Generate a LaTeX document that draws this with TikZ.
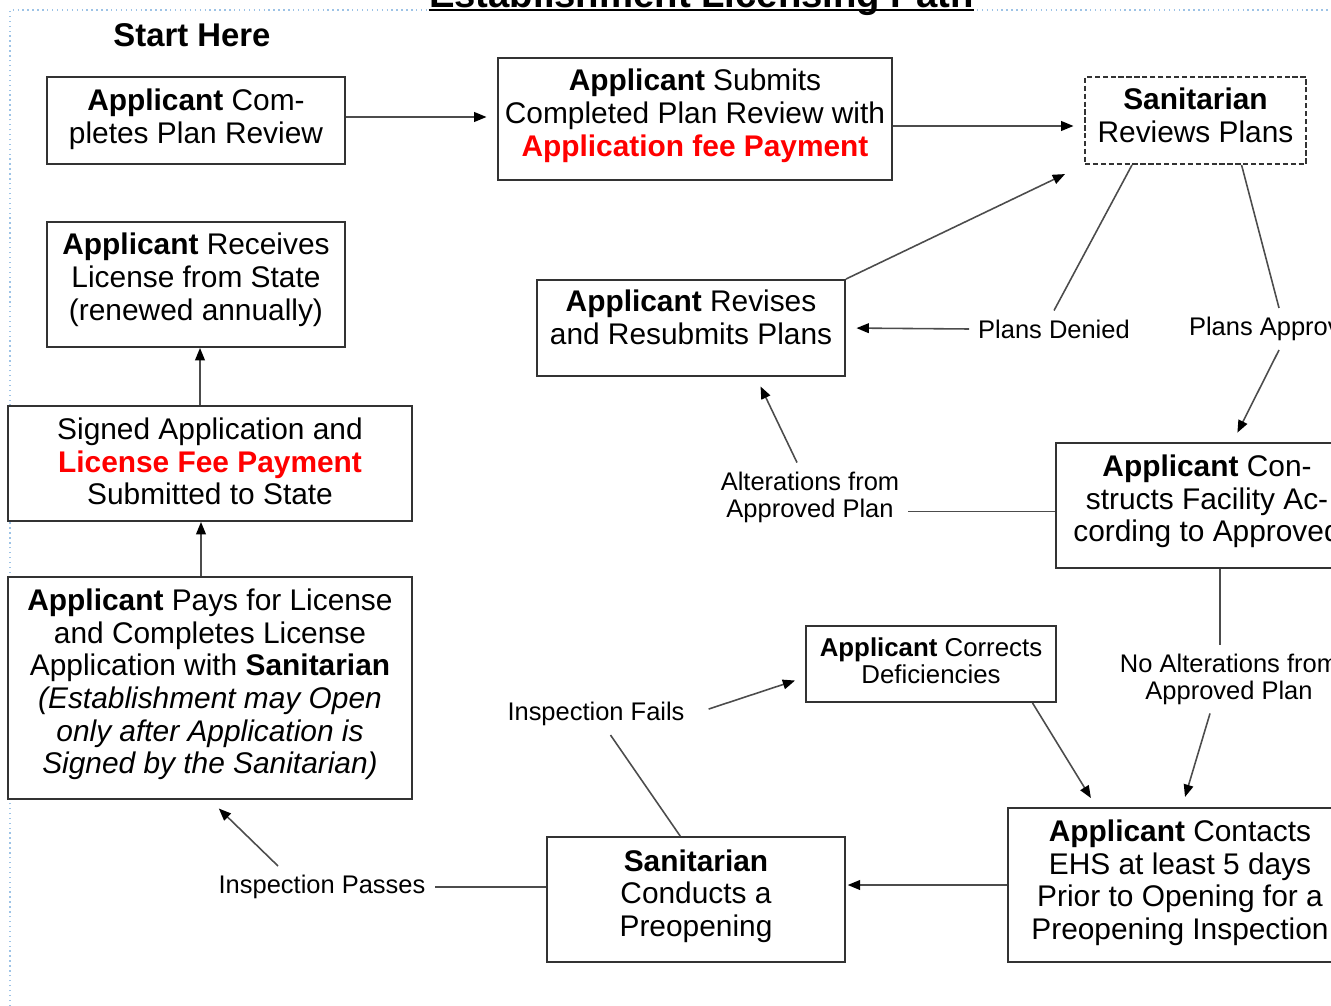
\documentclass[tikz,border=0pt]{standalone}
\usepackage{fontspec}
\setmainfont{Liberation Sans}
\usetikzlibrary{arrows.meta,calc}
\definecolor{framecol}{HTML}{9DC3E6}
\definecolor{linecol}{HTML}{333333}
\newcommand{\lowpad}[1]{\rule[-#1]{0pt}{#1}}
\begin{document}
\begin{tikzpicture}[x=0.02cm, y=-0.02cm,
    box/.style={draw=linecol, line width=1.1pt, fill=white, align=center, inner sep=0pt,
        font=\fontsize{17}{18.6}\selectfont},
    lbl/.style={align=center, inner sep=5pt, font=\fontsize{14.5}{15.3}\selectfont},
    lnk/.style={draw=black!70, line width=0.9pt},
    arr/.style={lnk, -{Triangle[length=7pt,width=5.5pt,color=black]}, shorten >=6pt}]
        \useasboundingbox (0,0) rectangle (1331,1006);
        \clip (0,0) rectangle (1331,1006);
        \draw[framecol, dotted, line width=0.8pt] (10,1006) -- (10,10) -- (1331,10);

        \node[anchor=base, inner sep=0pt, font=\fontsize{21.8}{24}\selectfont\bfseries] (title) at (701.5,8) {Establishment Licensing Path};
        \draw[line width=1.2pt] ($(title.base west)+(0,2)$) -- ($(title.base east)+(0,2)$);
        \node[font=\fontsize{18.7}{22}\selectfont\bfseries] (start) at (192,35) {Start Here};

        \node[box, minimum width=5.96cm, minimum height=1.74cm] (b1) at (196,120.5) {\textbf{Applicant} Com-\\pletes Plan Review\lowpad{5.3pt}};
        \node[box, minimum width=7.88cm, minimum height=2.44cm] (b2) at (695,119) {\textbf{Applicant} Submits\\Completed Plan Review with\\\textcolor{red}{\textbf{Application fee Payment}}\lowpad{7pt}};
        \node[box, minimum width=4.42cm, minimum height=1.74cm, dash pattern=on 3pt off 1.5pt] (b3) at (1195.5,120.5) {\textbf{Sanitarian}\\Reviews Plans\lowpad{6.4pt}};
        \node[box, minimum width=5.96cm, minimum height=2.5cm] (b4) at (196,284.5) {\textbf{Applicant} Receives\\License from State\\(renewed annually)\lowpad{8.7pt}};
        \node[box, minimum width=6.16cm, minimum height=1.92cm] (b5) at (691,328) {\textbf{Applicant} Revises\\and Resubmits Plans\lowpad{12.6pt}};
        \node[box, minimum width=8.08cm, minimum height=2.3cm] (b6) at (210,463.5) {Signed Application and\\\textcolor{red}{\textbf{License Fee Payment}}\\Submitted to State\lowpad{2.4pt}};
        \node[box, minimum width=6.04cm, minimum height=2.5cm] (b7) at (1207,505.5) {\textbf{Applicant} Con-\\structs Facility Ac-\\cording to Approved\lowpad{8.1pt}};
        \node[box, minimum width=8.08cm, minimum height=4.44cm] (b8) at (210,688) {\textbf{Applicant} Pays for License\\and Completes License\\Application with \textbf{Sanitarian}\\\textit{(Establishment may Open}\\\textit{only after Application is}\\\textit{Signed by the Sanitarian)}\lowpad{7.5pt}};
        \node[box, minimum width=5cm, minimum height=1.52cm, font=\fontsize{14.7}{15.3}\selectfont] (b9) at (931,664) {\textbf{Applicant} Corrects\\Deficiencies\lowpad{4pt}};
        \node[box, minimum width=5.96cm, minimum height=2.5cm] (b10) at (696,899.5) {\textbf{Sanitarian}\\Conducts a\\Preopening\lowpad{7.5pt}};
        \node[box, minimum width=6.88cm, minimum height=3.08cm] (b11) at (1180,885) {\textbf{Applicant} Contacts\\EHS at least 5 days\\Prior to Opening for a\\Preopening Inspection\lowpad{6pt}};

        \node[lbl] (den) at (1054,329) {Plans Denied};
        \node[lbl] (app) at (1279,329) {Plans Approved};
        \node[lbl] (alt) at (810,497) {Alterations from\\Approved Plan};
        \node[lbl] (noalt) at (1229,679) {No Alterations from\\Approved Plan};
        \node[lbl] (fail) at (596,714) {Inspection Fails};
        \node[lbl] (pass) at (322,887) {Inspection Passes};

        \draw[arr] ($(b1.east)+(0,-3.5)$) -- ($(b1.east -| b2.west)+(0,-3.5)$);
        \draw[arr] ($(b2.east)+(0,7)$) -- ($(b2.east -| b3.west)+(0,7)$);
        \draw[arr, shorten >=12pt] (b5.north east) -- (b3.south west);
        \draw[lnk] (b3.215) -- (den.north);
        \draw[lnk] (b3.316) -- (app.north);
        \draw[arr] (den.west) -- (b5.east);
        \draw[arr] (app.south) -- (b7.68);
        \draw[lnk] ($(b7.west)+(0,6)$) -- ($(b7.west -| alt.east)+(0,6)$);
        \draw[arr] ($(alt.north)+(-13,0)$) -- (b5.323);
        \draw[lnk] ($(b7.south -| noalt)+(-9,0)$) -- ($(noalt.north)+(-9,0)$);
        \draw[arr] ($(noalt.south)+(-19,0)$) -- ($(b11.north)+(2,0)$);
        \draw[arr] (b9.339) -- (b11.137);
        \draw[arr, shorten >=1pt] (b11.west) -- (b11.west -| b10.east);
        \draw[lnk] (b10.104) -- (fail);
        \draw[arr, shorten <=9pt] (fail.east) -- (b9.186);
        \draw[lnk] (b10.west |- pass) -- (pass);
        \draw[arr, shorten >=7pt] ($(pass.north)+(-44,0)$) -- (b8.south);
        \draw[arr, shorten >=0pt] ($(b8.north -| b4)+(5,0)$) -- ($(b6.south -| b4)+(5,0)$);
        \draw[arr, shorten >=0pt] ($(b6.north -| b4)+(4,0)$) -- ($(b4.south)+(4,0)$);
    \end{tikzpicture}
\end{document}
